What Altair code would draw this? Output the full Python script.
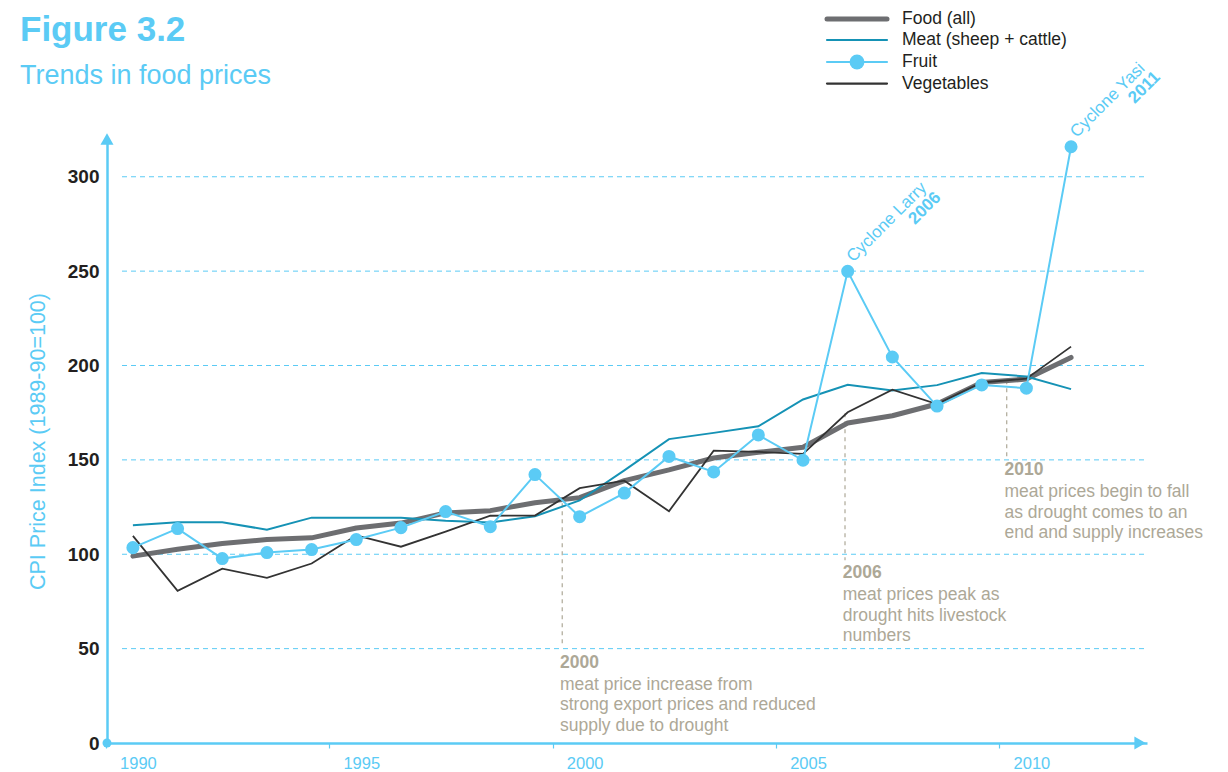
import altair as alt
import pandas as pd

# ---------------- data ----------------
years = list(range(1990, 2012))
food = [99.0, 102.6, 105.7, 107.8, 108.7, 113.9, 116.5, 121.9, 123.1, 127.3, 130.0,
        139.0, 144.7, 151.0, 154.0, 156.7, 169.5, 173.4, 179.6, 191.0, 192.8, 204.3]
meat = [115.3, 116.9, 117.0, 113.0, 119.4, 119.4, 119.4, 117.8, 116.8, 120.1, 128.5,
        144.4, 161.0, 164.3, 167.8, 182.0, 189.8, 186.7, 189.6, 196.0, 194.2, 187.5]
fruit = [103.5, 113.6, 97.7, 100.9, 102.5, 107.8, 114.1, 122.6, 114.6, 142.2, 119.9,
         132.4, 151.8, 143.6, 163.2, 149.8, 249.9, 204.5, 178.5, 189.7, 188.0, 315.9]
veg = [109.7, 80.6, 92.4, 87.5, 95.1, 110.0, 104.0, 112.0, 120.4, 120.5, 135.0,
       139.0, 122.8, 154.9, 154.2, 153.2, 175.2, 187.2, 179.6, 191.0, 193.0, 210.0]

series_names = ["Food (all)", "Meat (sheep + cattle)", "Fruit", "Vegetables"]
grid_values = [50, 100, 150, 200, 250, 300]
x_tick_values = [1990, 1995, 2000, 2005, 2010]
y_tick_values = [0, 50, 100, 150, 200, 250, 300]

note_years = ["2000", "2006", "2010"]
note_texts = [
    "meat price increase from\nstrong export prices and reduced\nsupply due to drought",
    "meat prices peak as\ndrought hits livestock\nnumbers",
    "meat prices begin to fall\nas drought comes to an\nend and supply increases",
]
note_x = [1999.61, 2005.94, 2009.56]
note_top = [127.0, 174.7, 192.2]
note_bottom = [51.8, 96.8, 150.9]
note_text_y = [39.9, 87.3, 141.8]

cyclone_names = ["Cyclone Larry", "Cyclone Yasi"]
cyclone_years = ["2006", "2011"]
cyclone_x = [2006, 2011]
cyclone_y = [249.9, 315.9]

# ---------------- style ----------------
W, H = 1040, 604
BLUE = "#5BCBF5"
TEAL = "#1592B5"
GRAY = "#6D6E71"
DARK = "#333333"
TAN = "#ADA897"
INK = "#231F20"
FONT = "Liberation Sans"

xs = alt.Scale(domain=[1989.42, 2012.7], nice=False, zero=False)
ys = alt.Scale(domain=[0, 320], nice=False, zero=True)

xaxis = alt.Axis(values=x_tick_values, format="d", title=None, grid=False,
                 domainColor=BLUE, domainWidth=2.5, tickColor=BLUE, tickWidth=1.2,
                 tickSize=5, tickOffset=-27, labelOffset=32, labelColor=BLUE,
                 labelFont=FONT, labelFontSize=16.5, labelPadding=7, labelFlush=False)
yaxis = alt.Axis(values=y_tick_values, title="CPI Price Index (1989-90=100)", grid=False,
                 domainColor=BLUE, domainWidth=2.5, ticks=False,
                 labelColor=INK, labelFont=FONT, labelFontSize=19, labelFontWeight="bold",
                 labelPadding=8, titleColor=BLUE, titleFont=FONT, titleFontSize=21.5,
                 titleFontWeight="normal", titlePadding=18)

X = alt.X("year:Q", scale=xs, axis=xaxis)
Y = alt.Y("value:Q", scale=ys, axis=yaxis)

layers = []

# gridlines
grid_df = pd.DataFrame({"value": grid_values})
layers.append(alt.Chart(grid_df).mark_rule(color=BLUE, strokeWidth=1, strokeDash=[5, 4]).encode(
    y=Y, x=alt.value(15), x2=alt.value(W)))

# annotation dashed lines
note_df = pd.DataFrame({"year": note_x, "value": note_top, "value2": note_bottom})
layers.append(alt.Chart(note_df).mark_rule(color=TAN, strokeWidth=1.2, strokeDash=[4, 4]).encode(
    x=X, y=Y, y2="value2:Q"))

# series lines
def series_df(vals):
    return pd.DataFrame({"year": years, "value": vals})

layers.append(alt.Chart(series_df(food)).mark_line(color=GRAY, strokeWidth=5, strokeCap="round",
                                                   strokeJoin="round").encode(x=X, y=Y))
layers.append(alt.Chart(series_df(meat)).mark_line(color=TEAL, strokeWidth=2).encode(x=X, y=Y))
layers.append(alt.Chart(series_df(veg)).mark_line(color=DARK, strokeWidth=1.8).encode(x=X, y=Y))
layers.append(alt.Chart(series_df(fruit)).mark_line(color=BLUE, strokeWidth=2).encode(x=X, y=Y))
layers.append(alt.Chart(series_df(fruit)).mark_circle(color=BLUE, size=170, opacity=1).encode(x=X, y=Y))

# notes text
note_text_df = pd.DataFrame({"year": [v - 0.05 for v in note_x], "value": note_text_y,
                             "label": note_years, "body": note_texts})
layers.append(alt.Chart(note_text_df).mark_text(align="left", baseline="alphabetic", font=FONT,
                                                fontSize=17.5, fontWeight="bold", color=TAN).encode(
    x=X, y=Y, text="label:N"))
layers.append(alt.Chart(note_text_df).mark_text(align="left", baseline="alphabetic", font=FONT,
                                                fontSize=17.5, color=TAN, dy=22, lineBreak="\n",
                                                lineHeight=20.5).encode(
    x=X, y=Y, text="body:N"))

# cyclone labels (rotated)
cyc_widths = [106, 100]
for name, yr, cx, cy, wdt in zip(cyclone_names, cyclone_years, cyclone_x, cyclone_y, cyc_widths):
    cdf = pd.DataFrame({"year": [cx], "value": [cy], "name": [name], "yr": [yr]})
    layers.append(alt.Chart(cdf).mark_text(align="left", baseline="alphabetic", angle=315, dx=10, dy=-2,
                                           font=FONT, fontSize=17, color=BLUE).encode(
        x=X, y=Y, text="name:N"))
    layers.append(alt.Chart(cdf).mark_text(align="right", baseline="alphabetic", angle=315, dx=12 + wdt,
                                           dy=15, font=FONT, fontSize=17, fontWeight="bold",
                                           color=BLUE).encode(
        x=X, y=Y, text="yr:N"))

# axis decorations: arrows & origin dot
one = pd.DataFrame({"k": [0]})
layers.append(alt.Chart(one).mark_point(shape="triangle-right", filled=True, size=170, color=BLUE,
                                        opacity=1).encode(x=alt.value(W - 7), y=alt.value(H)))
layers.append(alt.Chart(one).mark_point(shape="triangle-up", filled=True, size=170, color=BLUE,
                                        opacity=1).encode(x=alt.value(0), y=alt.value(0)))
layers.append(alt.Chart(one).mark_circle(size=80, color=BLUE, opacity=1).encode(
    x=alt.value(0), y=alt.value(H)))

# titles
layers.append(alt.Chart(pd.DataFrame({"t": ["Figure 3.2"]})).mark_text(
    align="left", baseline="alphabetic", font=FONT, fontSize=35, fontWeight="bold", color=BLUE).encode(
    x=alt.value(-87), y=alt.value(-98), text="t:N"))
layers.append(alt.Chart(pd.DataFrame({"t": ["Trends in food prices"]})).mark_text(
    align="left", baseline="alphabetic", font=FONT, fontSize=27, color=BLUE).encode(
    x=alt.value(-87), y=alt.value(-55), text="t:N"))

# legend
leg_rows = [-120, -99, -77, -55.4]
leg_colors = [GRAY, TEAL, BLUE, DARK]
leg_widths = [5, 2.2, 2.2, 2.2]
for name, ry, col, sw in zip(series_names, leg_rows, leg_colors, leg_widths):
    ldf = pd.DataFrame({"t": [name]})
    layers.append(alt.Chart(ldf).mark_rule(color=col, strokeWidth=sw, strokeCap="round").encode(
        x=alt.value(720), x2=alt.value(780), y=alt.value(ry)))
    if name == "Fruit":
        layers.append(alt.Chart(ldf).mark_circle(color=BLUE, size=220, opacity=1).encode(
            x=alt.value(750), y=alt.value(ry)))
    layers.append(alt.Chart(ldf).mark_text(align="left", baseline="middle", font=FONT, fontSize=17.5,
                                           color=INK).encode(
        x=alt.value(795), y=alt.value(ry), text="t:N"))

chart = alt.layer(*layers).properties(
    width=W, height=H,
    autosize=alt.AutoSizeParams(type="none"),
    padding={"left": 99, "top": 131, "right": 58, "bottom": 27},
).configure_view(stroke=None)

chart.save("out.html", embed_options={"renderer": "svg", "actions": False})
